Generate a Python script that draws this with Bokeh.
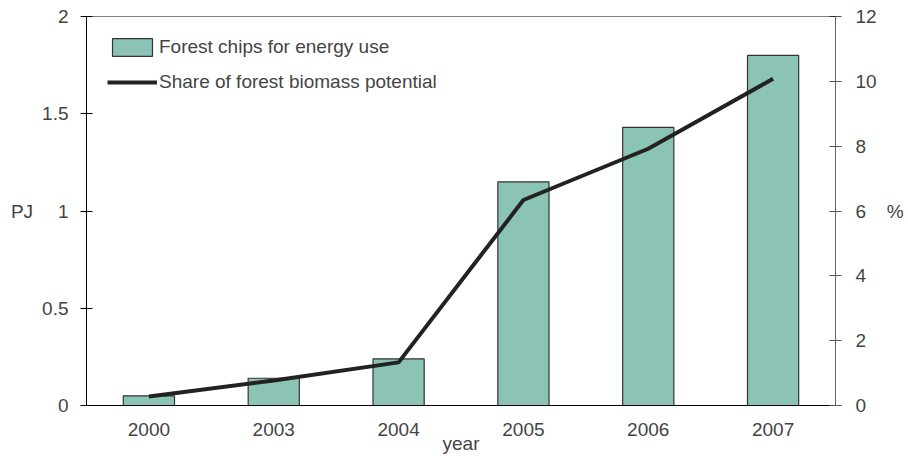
from bokeh.plotting import figure
from bokeh.models import (Range1d, LinearAxis, FixedTicker, NumeralTickFormatter,
                          Span, ColumnDataSource)
from bokeh.embed import file_html
from bokeh.resources import INLINE

# ---- data ----
years = ["2000", "2003", "2004", "2005", "2006", "2007"]
chips_pj = [0.05, 0.14, 0.24, 1.15, 1.43, 1.80]
share_pct = [0.28, 0.77, 1.33, 6.34, 7.92, 10.08]
pj_ticks = [0, 0.5, 1, 1.5, 2]
pct_ticks = [0, 2, 4, 6, 8, 10, 12]

FONT = "Liberation Sans"
FS = "19px"

src = ColumnDataSource(dict(year=years, pj=chips_pj, pct=share_pct))

p = figure(x_range=years, y_range=Range1d(0, 2), width=908, height=456,
           output_backend="svg", toolbar_location=None,
           min_border_left=86, min_border_right=73, min_border_top=16, min_border_bottom=51)
p.extra_y_ranges = {"pct": Range1d(0, 12)}
p.outline_line_color = None
p.xgrid.grid_line_color = None
p.ygrid.grid_line_color = None
p.background_fill_color = "white"
p.border_fill_color = "white"

p.vbar(x="year", top="pj", width=0.41, source=src, fill_color="#8bc3b4",
       line_color="#333333", line_width=1.2, legend_label="Forest chips for energy use")
p.line(x="year", y="pct", source=src, y_range_name="pct", line_color="#222222",
       line_width=4, legend_label="Share of forest biomass potential")

# top border line
p.add_layout(Span(location=2, dimension="width", line_color="black", line_width=1))

# left axis
ya = p.yaxis[0]
ya.ticker = FixedTicker(ticks=pj_ticks)
ya.formatter = NumeralTickFormatter(format="0.[0]")
ya.minor_tick_line_color = None
ya.major_tick_in = 6
ya.major_tick_out = 6
ya.major_label_standoff = 12
ya.axis_label = "PJ"
ya.axis_label_orientation = "horizontal"
ya.axis_label_standoff = 6
ya.axis_label_text_font_style = "normal"
ya.axis_label_text_font = FONT
ya.axis_label_text_font_size = FS
ya.major_label_text_font = FONT
ya.major_label_text_font_size = FS
ya.axis_line_color = "black"
ya.major_tick_line_color = "black"

# right axis
ra = LinearAxis(y_range_name="pct", ticker=FixedTicker(ticks=pct_ticks))
ra.minor_tick_line_color = None
ra.major_tick_in = 6
ra.major_tick_out = 6
ra.major_label_standoff = 14
ra.axis_label = "%"
ra.axis_label_orientation = "horizontal"
ra.axis_label_standoff = 7
ra.axis_label_text_font_style = "normal"
ra.axis_label_text_font = FONT
ra.axis_label_text_font_size = FS
ra.major_label_text_font = FONT
ra.major_label_text_font_size = FS
ra.axis_line_color = "#666666"
ra.major_tick_line_color = "#555555"
p.add_layout(ra, "right")

# x axis
xa = p.xaxis[0]
xa.major_tick_line_color = None
xa.major_tick_out = 0
xa.major_tick_in = 0
xa.minor_tick_line_color = None
xa.major_label_standoff = 17
xa.major_label_text_font = FONT
xa.major_label_text_font_size = FS
xa.axis_line_color = "black"
xa.axis_label = "year"
xa.axis_label_standoff = -6
xa.axis_label_text_font_style = "normal"
xa.axis_label_text_font = FONT
xa.axis_label_text_font_size = FS

# legend
lg = p.legend[0]
lg.location = (21, 312)
lg.margin = 0
lg.padding = 0
lg.spacing = 13
lg.glyph_width = 50
lg.glyph_height = 22
lg.label_height = 22
lg.label_standoff = 2
lg.label_text_font = FONT
lg.label_text_font_size = FS
lg.border_line_color = None
lg.background_fill_alpha = 0

open("out.html", "w").write(file_html(p, INLINE))
